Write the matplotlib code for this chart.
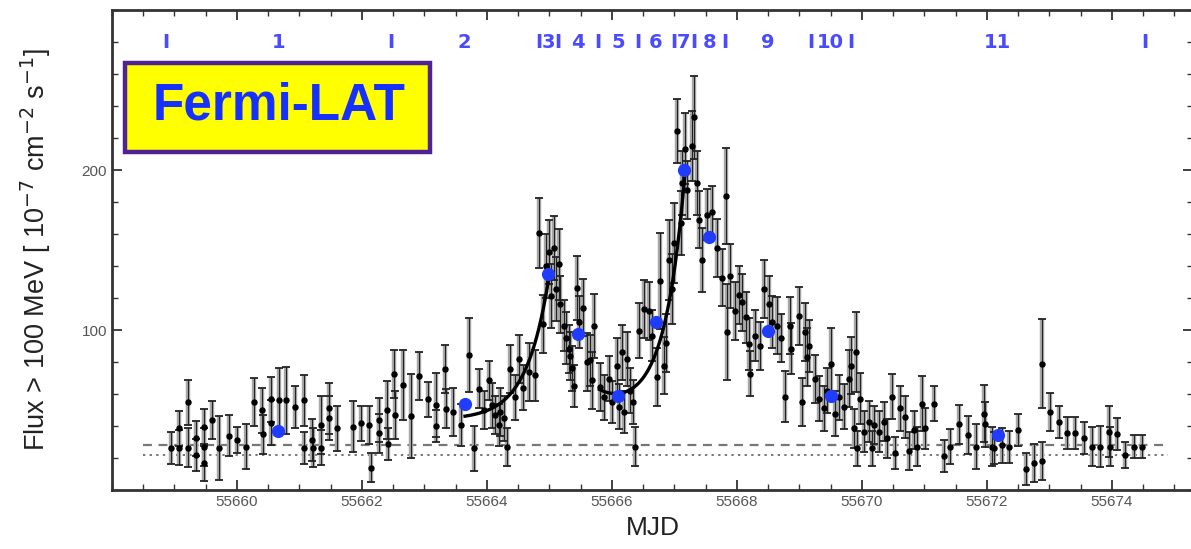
import numpy as np
import matplotlib
matplotlib.use("Agg")
import matplotlib.pyplot as plt
from matplotlib.patches import Rectangle
from matplotlib.ticker import MultipleLocator
from matplotlib.transforms import blended_transform_factory

plt.rcParams['font.family'] = ['Liberation Sans', 'DejaVu Sans']

# ---------------- data ----------------
mjd = [55658.95, 55659.07, 55659.08, 55659.21, 55659.22, 55659.34, 55659.35, 55659.47, 55659.47, 55659.48,
       55659.60, 55659.72, 55659.87, 55660.00, 55660.14, 55660.27, 55660.40, 55660.41, 55660.54, 55660.55,
       55660.68, 55660.79, 55660.93, 55661.07, 55661.08, 55661.20, 55661.21, 55661.34, 55661.35, 55661.47,
       55661.48, 55661.60, 55661.85, 55661.99, 55662.12, 55662.15, 55662.27, 55662.28, 55662.40, 55662.41,
       55662.52, 55662.53, 55662.66, 55662.78, 55662.92, 55663.06, 55663.18, 55663.19, 55663.33, 55663.34,
       55663.45, 55663.59, 55663.72, 55663.79, 55663.87,
       55663.95, 55664.03, 55664.08, 55664.13, 55664.19, 55664.21, 55664.27, 55664.32, 55664.37, 55664.45,
       55664.51, 55664.58, 55664.67, 55664.77, 55664.83, 55664.89, 55664.95, 55664.99, 55665.03, 55665.07,
       55665.11, 55665.15, 55665.17, 55665.23, 55665.27, 55665.31, 55665.33, 55665.36, 55665.39, 55665.44,
       55665.48, 55665.53, 55665.60, 55665.65, 55665.68, 55665.72, 55665.81, 55665.88, 55665.95, 55666.00,
       55666.08, 55666.12, 55666.16, 55666.19, 55666.24, 55666.29, 55666.33, 55666.37, 55666.43, 55666.51,
       55666.59, 55666.64, 55666.72, 55666.77, 55666.83, 55666.86, 55666.91, 55666.96, 55666.99,
       55667.04, 55667.10, 55667.12, 55667.17, 55667.20, 55667.29, 55667.31, 55667.36, 55667.39, 55667.44,
       55667.52, 55667.60, 55667.68, 55667.76, 55667.83, 55667.84, 55667.89, 55667.97, 55668.04, 55668.08,
       55668.14, 55668.19, 55668.21, 55668.29, 55668.37, 55668.43, 55668.51, 55668.56, 55668.64, 55668.70,
       55668.77, 55668.85, 55668.87, 55668.99, 55669.04, 55669.09, 55669.12, 55669.16,
       55669.25, 55669.31, 55669.39, 55669.45, 55669.51, 55669.57, 55669.64, 55669.72, 55669.79, 55669.83,
       55669.87, 55669.90, 55669.93, 55669.97, 55670.03, 55670.11, 55670.16, 55670.19, 55670.27, 55670.35,
       55670.40, 55670.48, 55670.53, 55670.61, 55670.69, 55670.75, 55670.83, 55670.88, 55670.96, 55671.01,
       55671.16, 55671.31, 55671.41, 55671.56, 55671.70, 55671.82, 55671.95, 55671.97, 55672.08,
       55672.12, 55672.24, 55672.36, 55672.50, 55672.62, 55672.76, 55672.88, 55672.89, 55673.01, 55673.15,
       55673.28, 55673.41, 55673.55, 55673.68, 55673.81, 55673.95, 55673.97, 55674.08, 55674.21, 55674.35,
       55674.48]

flux = [26.5, 26.5, 38.5, 54.7, 26.5, 32.3, 22.0, 39.5, 27.0, 16.8,
        43.7, 26.5, 34.0, 31.3, 27.1, 55.1, 49.9, 34.8, 56.7, 42.0,
        56.0, 56.0, 52.0, 56.0, 26.5, 31.3, 26.5, 40.5, 26.5, 51.0,
        45.0, 38.5, 39.5, 41.6, 40.5, 14.0, 43.7, 35.4, 49.9, 28.5,
        72.7, 47.0, 65.8, 46.3, 71.0, 56.7, 53.4, 40.0, 75.8, 50.9,
        48.9, 40.5, 84.5, 26.0, 63.4,
        49.9, 68.5, 53.0, 47.0, 40.5, 48.9, 44.7, 27.0, 75.8, 58.0,
        82.0, 64.0, 73.7, 71.6, 160.7, 103.7, 140.0, 149.0, 121.0, 151.0,
        125.5, 141.0, 116.0, 102.7, 95.0, 88.0, 84.0, 76.0, 65.0, 126.5,
        105.0, 114.0, 80.0, 81.0, 68.5, 102.7, 64.4, 58.0, 69.6, 55.0,
        77.8, 52.0, 86.0, 48.9, 82.0, 62.0, 55.0, 27.1, 99.6, 113.0,
        112.0, 96.5, 70.6, 130.6, 77.8, 92.0, 144.0, 125.5, 154.5,
        224.4, 167.0, 191.7, 213.4, 187.6, 215.0, 233.0, 191.7, 169.0, 144.0,
        172.0, 174.0, 151.4, 132.7, 183.9, 98.6, 133.7, 112.0, 122.0, 117.2,
        108.0, 91.3, 72.7, 96.5, 90.2, 125.5, 116.0, 105.0, 102.7, 95.0,
        58.2, 102.7, 88.2, 108.9, 55.0, 98.6, 83.0, 90.0,
        69.6, 57.0, 51.0, 62.0, 79.0, 47.8, 58.0, 52.0, 69.6, 77.8,
        38.5, 86.0, 26.0, 57.0, 36.5, 42.7, 26.0, 40.5, 36.5, 42.7,
        32.3, 58.2, 23.0, 51.0, 45.8, 24.2, 37.5, 27.1, 54.0, 38.5,
        54.0, 21.5, 27.1, 41.0, 34.4, 27.1, 47.8, 41.0, 27.1,
        26.0, 28.0, 27.0, 37.5, 13.2, 16.8, 18.2, 79.0, 48.9, 42.7,
        35.4, 35.4, 32.3, 27.1, 27.1, 36.5, 27.1, 34.8, 22.0, 27.1,
        27.1]

flux_err = [10, 11, 11, 14, 12, 11, 10, 11, 12, 11,
            12, 20, 13, 8, 14, 15, 14, 12, 14, 14,
            20, 21, 13, 16, 10, 13, 12, 18, 11, 16,
            14, 14, 16, 11, 12, 9, 14, 12, 18, 10,
            15, 15, 22, 26, 15, 11, 20, 10, 15, 12,
            15, 13, 23, 14, 12,
            12, 12, 14, 12, 13, 15, 14, 12, 15, 14,
            15, 14, 18, 16, 22, 18, 20, 20, 20, 20,
            20, 22, 18, 16, 16, 15, 15, 14, 13, 20,
            16, 18, 18, 16, 18, 20, 15, 14, 14, 13,
            17, 14, 17, 13, 17, 14, 14, 12, 17, 18,
            18, 16, 18, 30, 18, 18, 25, 22, 25,
            20, 20, 20, 22, 18, 22, 26, 20, 18, 20,
            16, 16, 18, 18, 30, 30, 20, 18, 18, 18,
            16, 16, 14, 16, 15, 18, 18, 16, 18, 15,
            16, 18, 16, 18, 15, 18, 18, 16,
            15, 14, 14, 14, 22, 14, 14, 14, 18, 18,
            12, 25, 11, 16, 13, 13, 11, 12, 13, 12,
            12, 14, 10, 14, 13, 12, 12, 12, 17, 13,
            11, 10, 11, 12, 12, 14, 18, 14, 12,
            10, 11, 10, 10, 10, 12, 12, 28, 12, 10,
            10, 10, 10, 12, 13, 16, 12, 10, 8, 7,
            7]

# time-segment boundaries, labels, and segment-averaged fluxes (blue dots)
seg_bounds = [55658.86, 55662.46, 55664.83, 55665.14, 55665.78, 55666.42,
              55666.99, 55667.31, 55667.81, 55669.18, 55669.82, 55674.53]
seg_labels = ['1', '2', '3', '4', '5', '6', '7', '8', '9', '10', '11']
seg_flux = [36.6, 54.0, 134.8, 97.5, 59.0, 105.0, 200.0, 158.4, 99.4, 59.0, 34.2]

# x tick labels shown
xtick_vals = [55660, 55662, 55664, 55666, 55668, 55670, 55672, 55674]
ytick_vals = [100, 200]

# reference flux levels (dashed, dotted)
level_dashed = 28.0
level_dotted = 21.7
level_range = (55658.5, 55674.9)

# exponential fit to flares:  const + A*exp((t - tp)/tr)  (+ decay term)
fit1 = dict(t0=55663.65, t1=55665.0, const=44.0, amp=91.0, tp=55665.0, tr=0.36)
fit2 = dict(t0=55665.80, t1=55667.17, const=50.0, amp=148.0, tp=55667.17, tr=0.32,
            damp=80.0, dtp=55665.0, td=0.40)

# ---------------- figure ----------------
W, H = 1191, 549
fig = plt.figure(figsize=(W / 100, H / 100), dpi=100)
ax = fig.add_axes([112 / W, 1 - 490 / H, (1193 - 112) / W, 480 / H])

mjd_a = np.array(mjd)
flux_a = np.array(flux)
err_a = np.array(flux_err)

ax.errorbar(mjd_a, flux_a, yerr=err_a, fmt='none', ecolor='#a8a8a8',
            elinewidth=3.2, capsize=0, zorder=2)
ax.errorbar(mjd_a, flux_a, yerr=err_a, fmt='o', ms=3.6, color='black',
            ecolor='#222222', elinewidth=0.8, capsize=2.6, capthick=1.3, zorder=3)

# fits
t = np.linspace(fit1['t0'], fit1['t1'], 200)
f = fit1['const'] + fit1['amp'] * np.exp((t - fit1['tp']) / fit1['tr'])
ax.plot(t, f, color='black', lw=2.4, zorder=4)
t = np.linspace(fit2['t0'], fit2['t1'], 200)
f = (fit2['const'] + fit2['amp'] * np.exp((t - fit2['tp']) / fit2['tr'])
     + fit2['damp'] * np.exp(-(t - fit2['dtp']) / fit2['td']))
ax.plot(t, f, color='black', lw=2.4, zorder=4)

# reference lines
ax.hlines(level_dashed, *level_range, colors='#777777', linestyles=(0, (4, 3)), lw=1.6, zorder=1)
ax.hlines(level_dotted, *level_range, colors='#777777', linestyles=(0, (1.2, 2.2)), lw=1.4, zorder=1)

# blue segment-average points
seg_b = np.array(seg_bounds)
seg_mid = 0.5 * (seg_b[:-1] + seg_b[1:])
ax.plot(seg_mid, seg_flux, 'o', color='#1f3cff', ms=9.5, mec='none', zorder=5)

# top labels
trans = blended_transform_factory(ax.transData, ax.transAxes)
for b in seg_bounds:
    ax.text(b, 0.933, 'I', transform=trans, ha='center', va='center',
            color='#4a4aff', fontsize=14, fontweight='bold', family='Liberation Sans Narrow')
for m, lab in zip(seg_mid, seg_labels):
    ax.text(m, 0.933, lab, transform=trans, ha='center', va='center',
            color='#4a4aff', fontsize=14, fontweight='bold', family='Liberation Sans Narrow')

# axes styling
ax.set_xlim(55658.0, 55675.3)
ax.set_ylim(0, 300)
ax.xaxis.set_major_locator(MultipleLocator(2))
ax.xaxis.set_minor_locator(MultipleLocator(0.5))
ax.yaxis.set_major_locator(MultipleLocator(100))
ax.yaxis.set_minor_locator(MultipleLocator(20))
ax.set_xticks(xtick_vals)
ax.set_xticklabels([str(v) for v in xtick_vals])
ax.set_yticks(ytick_vals)
ax.tick_params(which='both', direction='in', top=True, right=True, colors='#333333',
               labelcolor='#555555', labelsize=11)
ax.tick_params(which='major', length=7, width=1.3)
ax.tick_params(which='minor', length=4, width=1.0)
for s in ax.spines.values():
    s.set_linewidth(2.0)
    s.set_color('#333333')

ax.set_xlabel('MJD', fontsize=19, color='#222222', labelpad=5)
ax.set_ylabel(r'Flux > 100 MeV [ 10$^{-7}$ cm$^{-2}$ s$^{-1}$]', fontsize=19.5,
              color='#222222')
ax.yaxis.set_label_coords(-0.055, 0.5)

# Fermi-LAT box
rect = Rectangle((125 / W, 1 - 152 / H), 305 / W, 89 / H, transform=fig.transFigure,
                 facecolor='#ffff00', edgecolor='#4f2396', lw=3.2, zorder=10)
fig.patches.append(rect)
fig.text(279 / W, 1 - 106 / H, 'Fermi-LAT', ha='center', va='center', fontsize=37,
         fontweight='bold', color='#1530ff', zorder=11)

fig.savefig('out.png', dpi=100)
